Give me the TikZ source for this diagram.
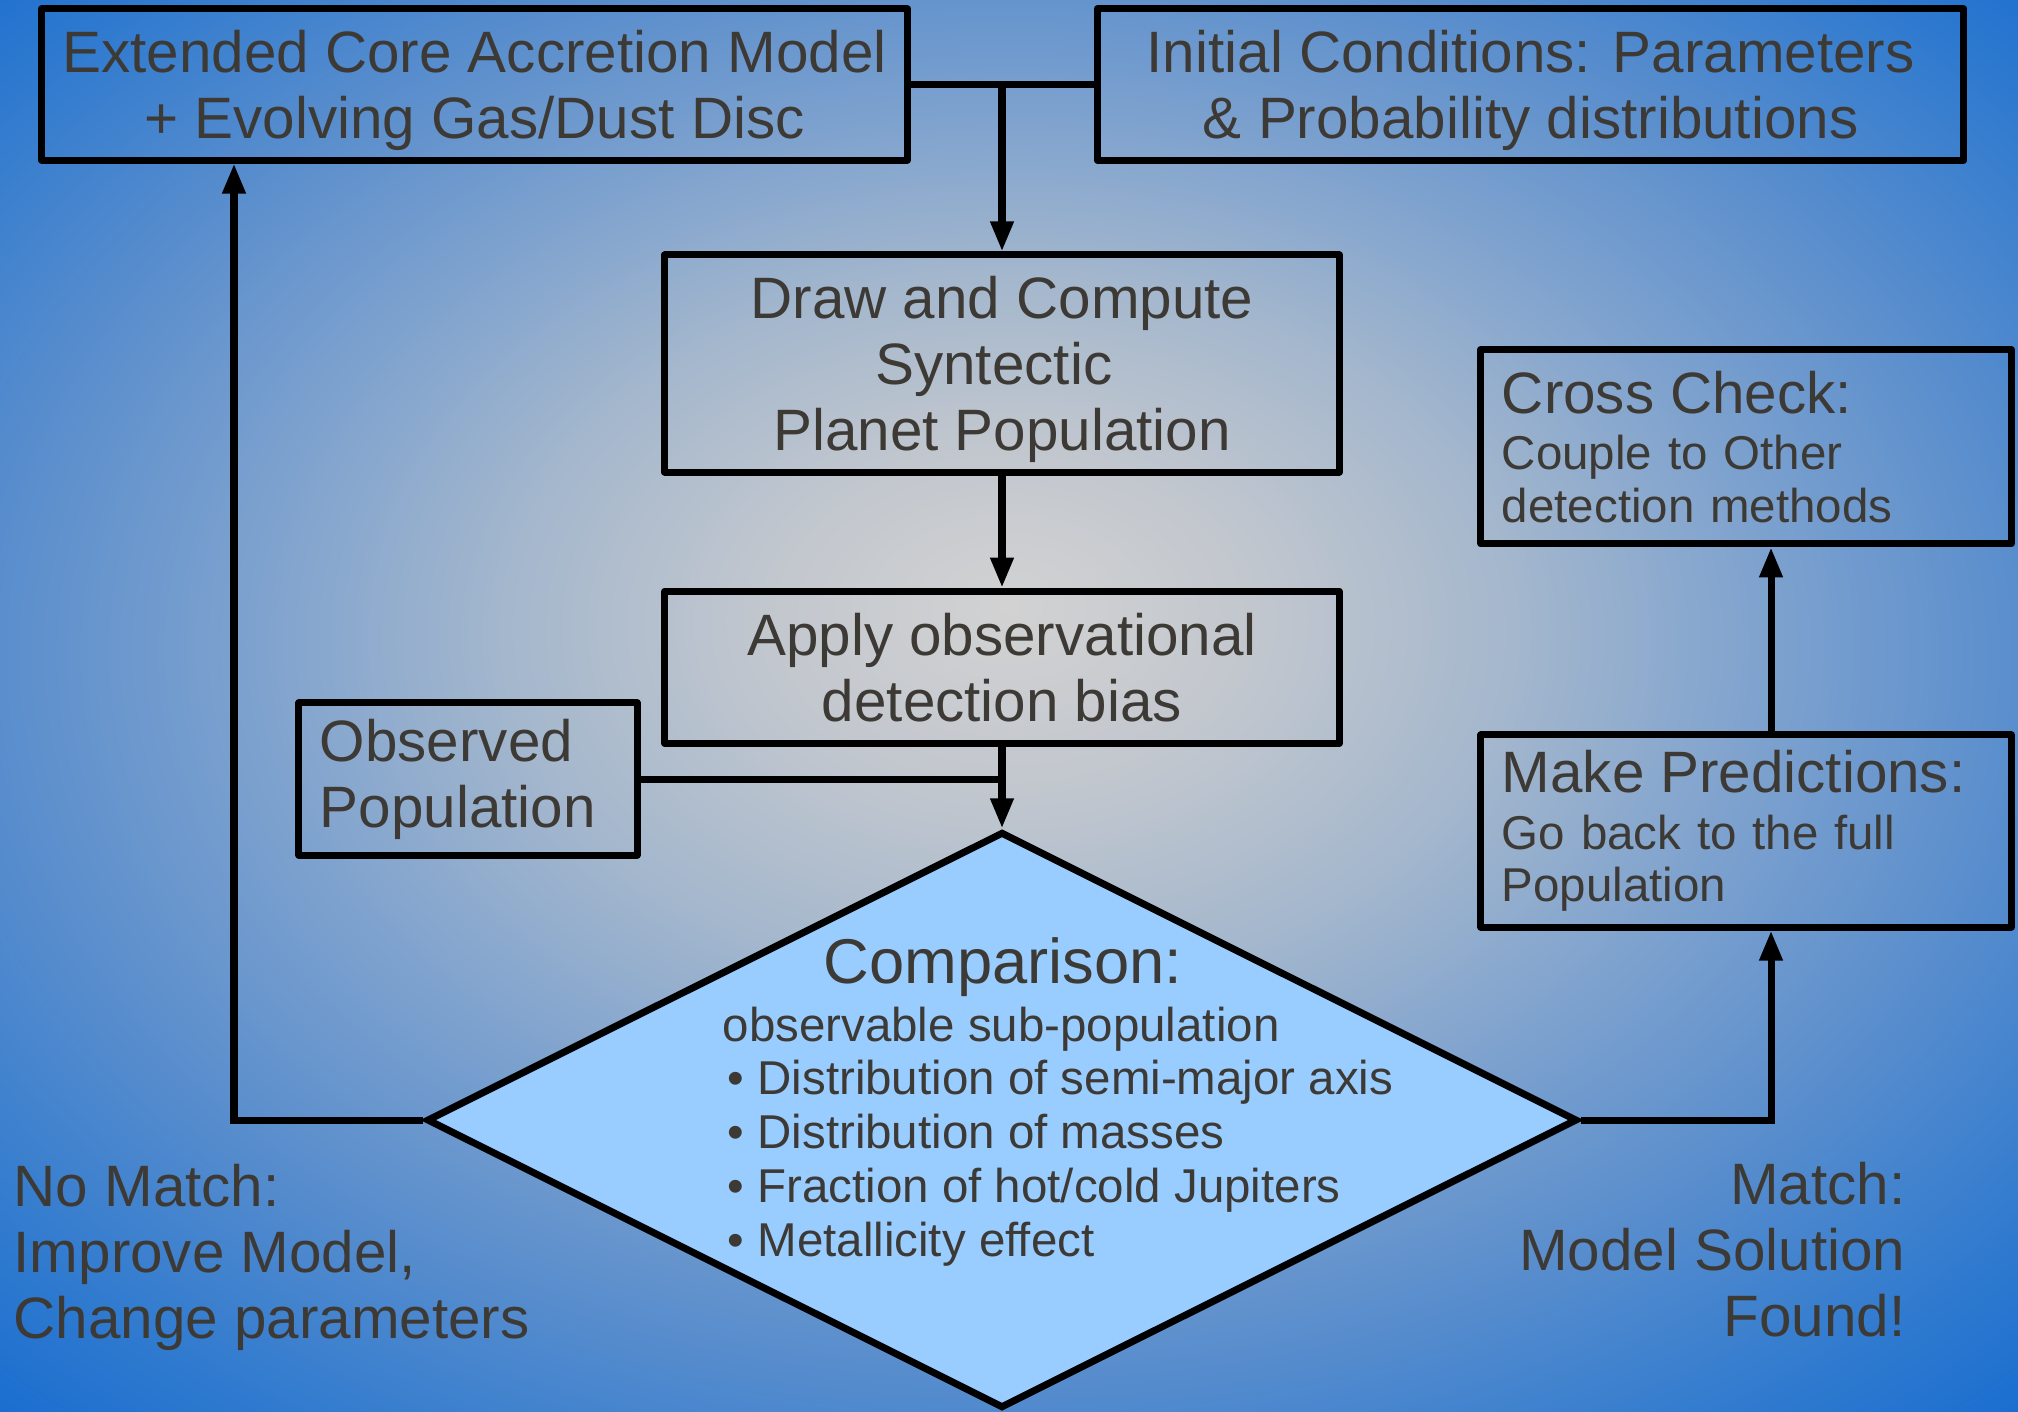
\documentclass[tikz,border=0pt]{standalone}
\usepackage{fontspec}
\setmainfont{Liberation Sans}
\usetikzlibrary{shapes.geometric, arrows.meta, positioning, calc}

\definecolor{textgray}{HTML}{3D3A36}
\definecolor{lightblue}{HTML}{99CCFF}
\definecolor{bgcentre}{HTML}{D2D2D2}
\definecolor{bgring}{HTML}{C2C7CE}
\definecolor{bgmid}{HTML}{A4B7CD}
\definecolor{bgouter}{HTML}{7EA2CE}
\definecolor{bgedge}{HTML}{5A8ECD}
\definecolor{bgdeep}{HTML}{2F7ACF}
\definecolor{bgcorner}{HTML}{1168D0}

\pgfdeclareradialshading{bgglow}{\pgfpoint{0bp}{3.5bp}}{%
  color(0bp)=(bgcentre); color(6bp)=(bgring); color(12.5bp)=(bgmid);
  color(18.75bp)=(bgouter); color(25bp)=(bgedge); color(32bp)=(bgdeep);
  color(38bp)=(bgcorner); color(50bp)=(bgcorner)}

\begin{document}
\begin{tikzpicture}[
  x=0.01cm, y=0.01cm,
  box/.style={rectangle, draw=black, line width=2pt, line join=round, text=textgray, font=\fontsize{16.6}{18.8}\selectfont, align=center, inner sep=0pt, text depth=0pt},
  sidebox/.style={box, align=left, text depth=, text width=4.88cm, inner xsep=0.21cm, minimum width=5.30cm, font=\fontsize{13.5}{15}\selectfont},
  decision/.style={diamond, draw=black, line width=2pt, fill=lightblue, inner sep=0pt, minimum width=11.5cm, minimum height=5.76cm},
  flow/.style={line width=2pt, -{Triangle[length=0.3cm, width=0.22cm]}},
  outcome/.style={text=textgray, font=\fontsize{16.6}{18.8}\selectfont, inner sep=0pt}
]
\useasboundingbox (0,0) rectangle (2018,-1411);
\shade[shading=bgglow] (0,0) rectangle (2018,-1411);

% top row
\node[box, minimum width=8.65cm, minimum height=1.51cm] (model) at (474.5,-84.5) {Extended Core Accretion Model\\+ Evolving Gas/Dust Disc};
\node[box, minimum width=8.66cm, minimum height=1.51cm, right=1.83cm of model] (init) {Initial Conditions: Parameters\\\& Probability distributions};

% middle column
\node[box, minimum width=6.74cm, minimum height=2.17cm] (synth) at (1002,-363.5) {Draw and Compute\\Syntectic\kern.28em\\Planet Population};
\node[box, minimum width=6.74cm, minimum height=1.52cm, below=1.12cm of synth] (bias) {Apply observational\\detection bias};
\node[box, align=left, text depth=, text width=2.96cm, inner xsep=0.21cm, minimum height=1.52cm] (obs) at (468,-779) {Observed\\Population};

% comparison
\node[decision] (cmp) at (1002,-1120) {};
\node[outcome, anchor=base, font=\fontsize{18}{21}\selectfont] (cmptitle) at (1003,-983) {Comparison:};
\node[outcome, anchor=north west, align=left, font=\fontsize{13.5}{15.3}\selectfont] (cmplist) at (722,-1006) {observable sub-population\\
\hspace*{0.05cm}• Distribution of semi-major axis\\
\hspace*{0.05cm}• Distribution of masses\\
\hspace*{0.05cm}• Fraction of hot/cold Jupiters\\
\hspace*{0.05cm}• Metallicity effect};

% right column
\node[sidebox, minimum height=1.92cm] (pred) at (1746,-831) {{\fontsize{16.6}{18.8}\selectfont Make Predictions:}\\[1pt]Go back to the full\\Population};
\node[sidebox, minimum height=1.94cm, above=1.84cm of pred] (check) {{\fontsize{16.6}{18.8}\selectfont Cross Check:}\\[1pt]Couple to Other\\detection methods};

% outcomes
\node[outcome, anchor=north west, align=left] (nomatchtext) at (13,-1163) {No Match:\\Improve Model,\\Change parameters};
\node[outcome, anchor=north east, align=right] (matchtext) at (1906,-1161) {Match:\\Model Solution\\Found!};

\coordinate (nomatch) at (234,-1120);
\coordinate (match) at (1771,-1120);

% connectors
\draw[line width=2pt] (model.east) -- (init.west);
\draw[flow] (model.east -| synth.north) -- (synth.north);
\draw[flow] (synth) -- (bias);
\draw[line width=2pt] (obs.east) -- (obs.east -| bias.south);
\draw[flow] (bias.south) -- (cmp.north);
\draw[flow] (cmp.west) -- (nomatch) -- (nomatch |- model.south);
\draw[flow] (cmp.east) -- (match) -- (match |- pred.south);
\draw[flow] (match |- pred.north) -- (match |- check.south);
\end{tikzpicture}
\end{document}
